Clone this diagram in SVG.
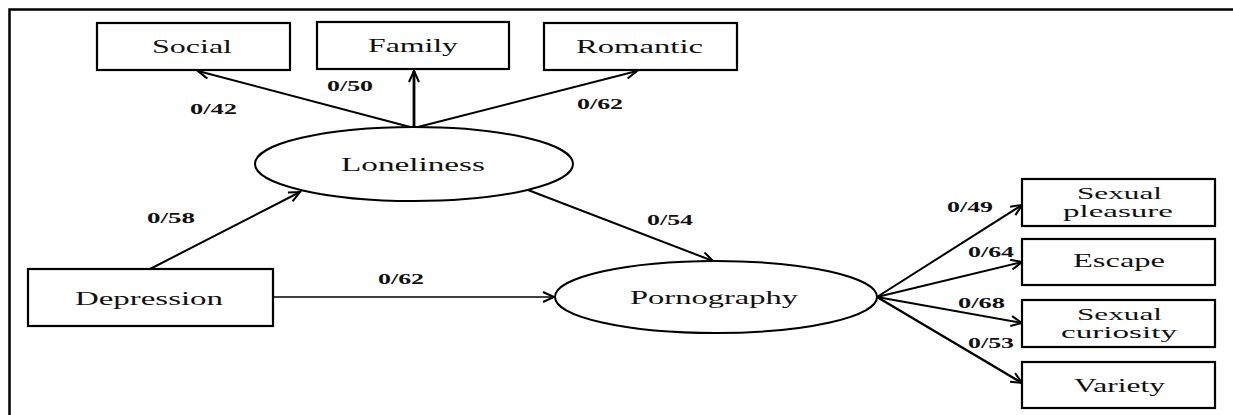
<svg xmlns="http://www.w3.org/2000/svg" width="1233" height="415" viewBox="0 0 1233 415">
<defs>
<style>
.box{fill:#fff;stroke:#000;stroke-width:2.2}
.ell{fill:#fff;stroke:#000;stroke-width:2}
.t{font-family:'Liberation Serif','Times New Roman',serif;font-size:19px;fill:#111}
.t2{font-family:'Liberation Serif','Times New Roman',serif;font-size:16.5px;fill:#111}
.lb{font-family:'Liberation Serif','Times New Roman',serif;font-size:14px;font-weight:bold;fill:#111}
.c{stroke:#000;stroke-width:2;fill:none;marker-end:url(#ah)}
</style>
<marker id="ah" markerUnits="userSpaceOnUse" markerWidth="16" markerHeight="14" refX="12" refY="6" orient="auto">
<path d="M1,1 L12,6 L1,11" fill="none" stroke="#000" stroke-width="2"/>
</marker>
</defs>
<rect width="1233" height="415" fill="#fff"/>
<path d="M9.5,415 L9.5,9.5 L1233,9.5" fill="none" stroke="#000" stroke-width="2.5"/>

<g id="connectors">
<line class="c" x1="414" y1="128" x2="198" y2="71"/>
<line class="c" x1="414" y1="128" x2="414" y2="71" style="stroke-width:2.8"/>
<line class="c" x1="414" y1="128" x2="637" y2="71"/>
<line class="c" x1="150" y1="269" x2="300" y2="192"/>
<line class="c" x1="528" y1="190" x2="713" y2="261"/>
<line class="c" x1="273" y1="297" x2="554" y2="297" style="stroke-width:1.6"/>
<line class="c" x1="877" y1="297" x2="1022" y2="205"/>
<line class="c" x1="877" y1="297" x2="1022" y2="262"/>
<line class="c" x1="877" y1="297" x2="1022" y2="323"/>
<line class="c" x1="877" y1="297" x2="1022" y2="383" style="stroke-width:2.4"/>
<text class="lb" x="190" y="114" textLength="47" lengthAdjust="spacingAndGlyphs">0/42</text>
<text class="lb" x="327" y="91" textLength="46" lengthAdjust="spacingAndGlyphs">0/50</text>
<text class="lb" x="577" y="109" textLength="46" lengthAdjust="spacingAndGlyphs">0/62</text>
<text class="lb" x="147" y="223" textLength="48" lengthAdjust="spacingAndGlyphs">0/58</text>
<text class="lb" x="647" y="225" textLength="46" lengthAdjust="spacingAndGlyphs">0/54</text>
<text class="lb" x="378" y="284" textLength="46" lengthAdjust="spacingAndGlyphs">0/62</text>
<text class="lb" x="947" y="212" textLength="46" lengthAdjust="spacingAndGlyphs">0/49</text>
<text class="lb" x="968" y="257" textLength="46" lengthAdjust="spacingAndGlyphs">0/64</text>
<text class="lb" x="958" y="308" textLength="47" lengthAdjust="spacingAndGlyphs">0/68</text>
<text class="lb" x="968" y="348" textLength="46" lengthAdjust="spacingAndGlyphs">0/53</text>
</g>

<g id="social">
<rect class="box" x="97" y="23" width="193" height="47"/>
<text class="t" x="152" y="53" textLength="80" lengthAdjust="spacingAndGlyphs">Social</text>
</g>
<g id="family">
<rect class="box" x="317" y="22" width="192" height="47"/>
<text class="t" x="368" y="52" textLength="90" lengthAdjust="spacingAndGlyphs">Family</text>
</g>
<g id="romantic">
<rect class="box" x="544" y="23" width="193" height="47"/>
<text class="t" x="576" y="53" textLength="127" lengthAdjust="spacingAndGlyphs">Romantic</text>
</g>
<g id="loneliness">
<ellipse class="ell" cx="414" cy="164" rx="159" ry="37"/>
<text class="t" x="341" y="171" textLength="144" lengthAdjust="spacingAndGlyphs">Loneliness</text>
</g>
<g id="depression">
<rect class="box" x="28" y="269" width="245" height="57"/>
<text class="t" x="75" y="305" textLength="148" lengthAdjust="spacingAndGlyphs">Depression</text>
</g>
<g id="pornography">
<ellipse class="ell" cx="716" cy="297" rx="161" ry="36"/>
<text class="t" x="630" y="304" textLength="168" lengthAdjust="spacingAndGlyphs">Pornography</text>
</g>
<g id="sexual-pleasure">
<rect class="box" x="1022" y="179" width="193" height="47"/>
<text class="t2" x="1077" y="199" textLength="85" lengthAdjust="spacingAndGlyphs">Sexual</text>
<text class="t2" x="1063" y="217" textLength="110" lengthAdjust="spacingAndGlyphs">pleasure</text>
</g>
<g id="escape">
<rect class="box" x="1022" y="239" width="193" height="46"/>
<text class="t" x="1073" y="267" textLength="92" lengthAdjust="spacingAndGlyphs">Escape</text>
</g>
<g id="sexual-curiosity">
<rect class="box" x="1022" y="300" width="193" height="47"/>
<text class="t2" x="1077" y="320" textLength="85" lengthAdjust="spacingAndGlyphs">Sexual</text>
<text class="t2" x="1061" y="338" textLength="116" lengthAdjust="spacingAndGlyphs">curiosity</text>
</g>
<g id="variety">
<rect class="box" x="1022" y="362" width="193" height="46"/>
<text class="t" x="1074" y="392" textLength="91" lengthAdjust="spacingAndGlyphs">Variety</text>
</g>
</svg>
